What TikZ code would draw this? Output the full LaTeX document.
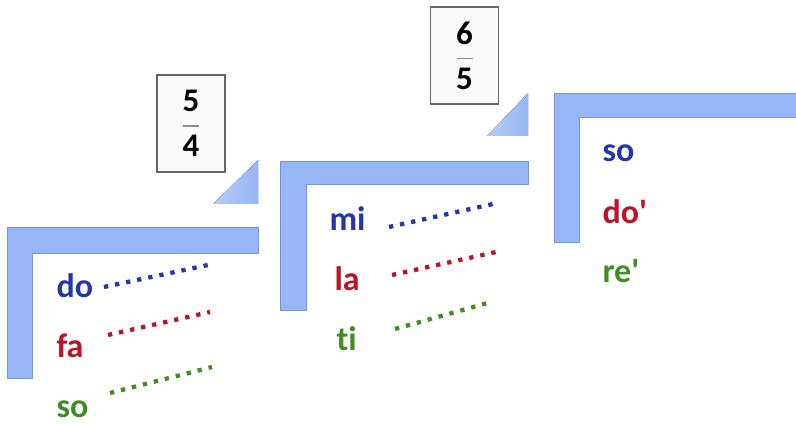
\documentclass[tikz,border=0pt]{standalone}
\usepackage{fontspec}
\setmainfont[Ligatures={TeX,NoCommon}]{Carlito}
\usetikzlibrary{positioning}

\definecolor{solblue}{RGB}{35,55,170}
\definecolor{solred}{RGB}{185,20,40}
\definecolor{solgreen}{RGB}{65,140,35}
\definecolor{barblue}{RGB}{150,182,245}
\definecolor{baredge}{RGB}{118,148,222}

\begin{document}
\begin{tikzpicture}[x=1pt,y=-1pt,
  bar/.style={fill=barblue, draw=baredge, line width=1pt},
  corner/.style={left color=barblue!70, right color=barblue, draw=none},
  ratio/.style={draw=black!60, fill=black!2, line width=1.3pt,
    minimum width=68pt, minimum height=97pt, inner sep=0pt,
    align=center, font=\bfseries\fontsize{33}{36}\selectfont},
  syl/.style={anchor=base west, font=\bfseries\fontsize{34}{38}\selectfont},
  dots/.style={line width=4.3pt, dash pattern=on 4.3pt off 7pt}]

\useasboundingbox (0,0) rectangle (796,425);

% first step: do fa so
\filldraw[bar] (7,228) -- (258,228) -- (258,253) -- (32,253) -- (32,378) -- (7,378) -- cycle;
\fill[corner] (213,204) -- (258,204) -- (258,160) -- cycle;
\node[ratio] (r54) at (191,123.5) {5\\[-21pt]{\color{black!45}\rule{16pt}{1.6pt}}\\[-6pt]4};

\node[syl, text=solblue]  (do)  at (53,297) {do};
\node[syl, text=solred]   (fa)  at (53,357) {fa};
\node[syl, text=solgreen] (so)  at (53,417) {so};

\draw[dots, solblue]  (104,287) -- (208,265);
\draw[dots, solred]   (108,335) -- (210,312);
\draw[dots, solgreen] (110,393) -- (212,367);

% second step: mi la ti
\filldraw[bar] (280,162) -- (528,162) -- (528,185) -- (306,185) -- (306,310) -- (280,310) -- cycle;
\fill[corner] (487,136) -- (528,136) -- (528,93) -- cycle;
\node[ratio] (r65) at (464.5,55.5) {6\\[-21pt]{\color{black!45}\rule{16pt}{1.6pt}}\\[-6pt]5};

\node[syl, text=solblue]  (mi)  at (326,230) {mi};
\node[syl, text=solred]   (la)  at (331,290) {la};
\node[syl, text=solgreen] (ti)  at (333,350) {ti};

\draw[dots, solblue]  (389,227) -- (493,204);
\draw[dots, solred]   (392,275) -- (496,252);
\draw[dots, solgreen] (395,329) -- (491,302);

% third step: so do' re'
\filldraw[bar] (554,94) -- (800,94) -- (800,118) -- (579,118) -- (579,243) -- (554,243) -- cycle;

\node[syl, text=solblue]  (so2) at (599,162) {so};
\node[syl, text=solred]   (do2) at (599,223) {do\textquotesingle};
\node[syl, text=solgreen] (re2) at (599,282) {re\textquotesingle};

\end{tikzpicture}
\end{document}
